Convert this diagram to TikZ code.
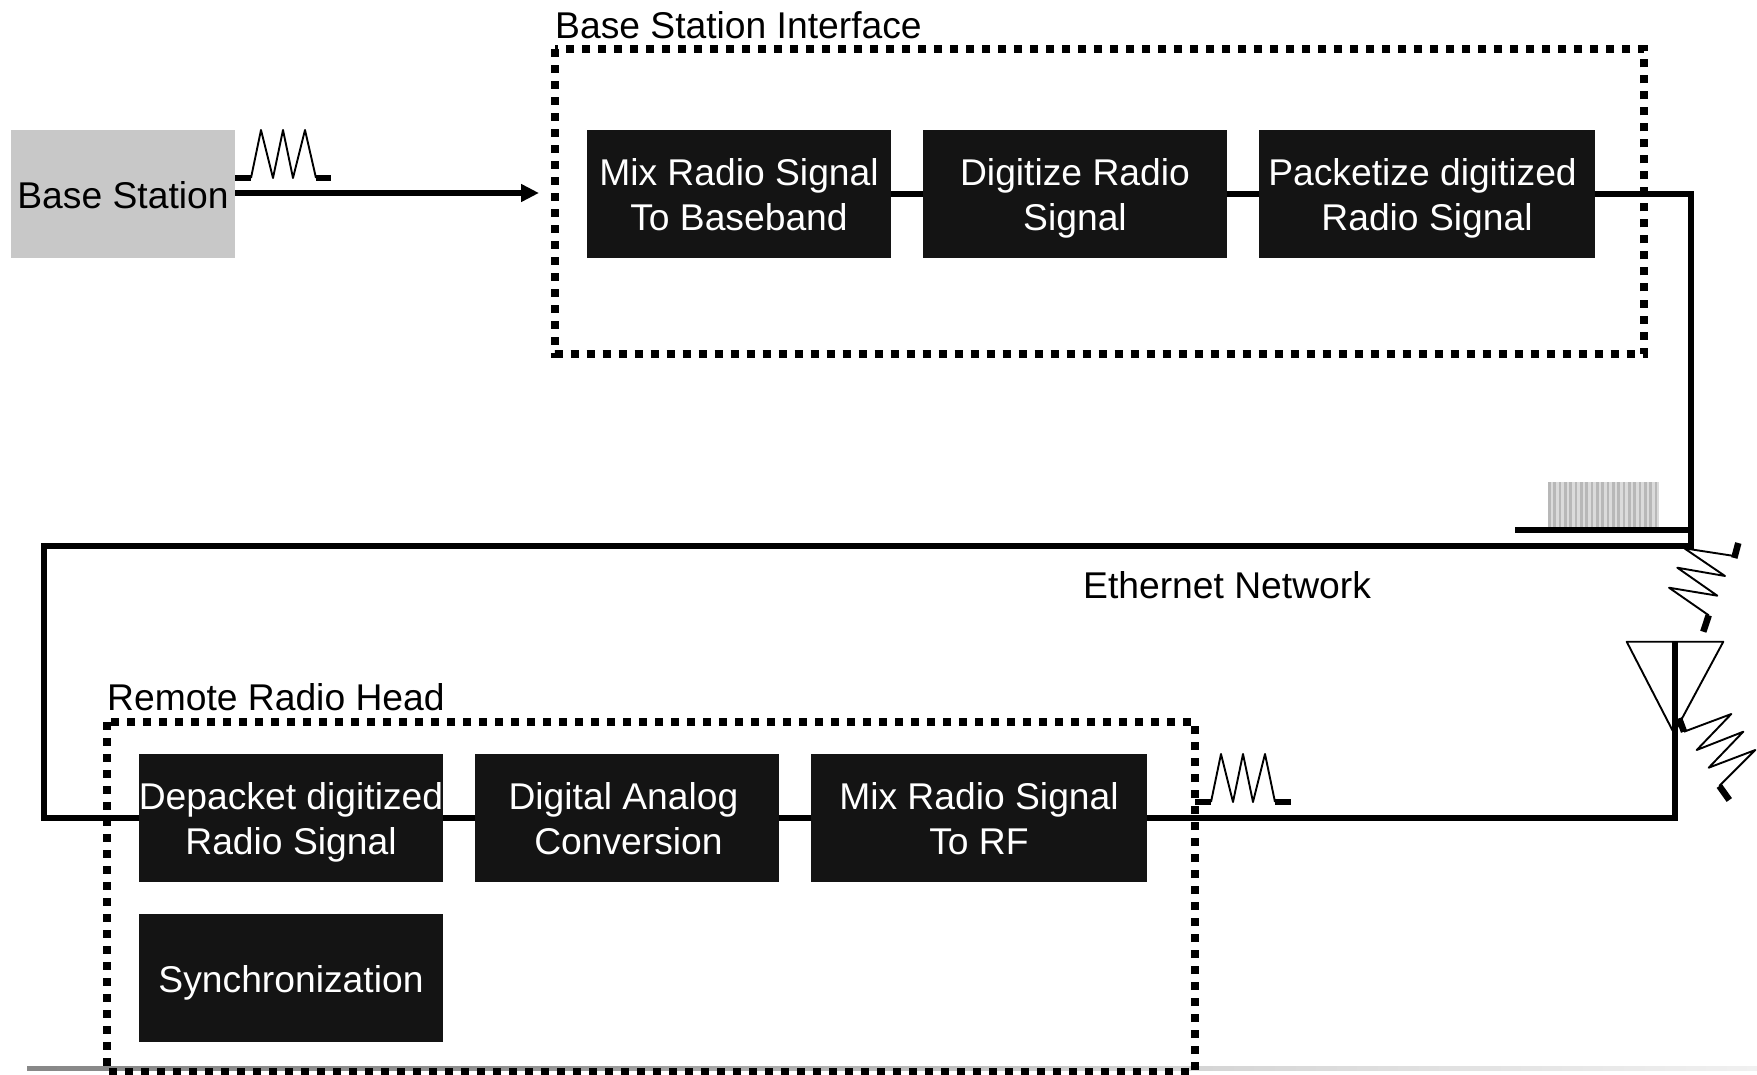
\documentclass[tikz,border=0pt]{standalone}
\usepackage{fontspec}
\setmainfont{Liberation Sans}
\usetikzlibrary{arrows.meta}
\newcommand{\bodyfont}{\fontsize{37.25}{44}\selectfont}
\newcommand{\tstrut}{\rule[-7.6pt]{0pt}{44pt}}
\definecolor{boxblack}{HTML}{141414}
\definecolor{bsgray}{HTML}{C8C8C8}
\definecolor{ruleA}{HTML}{888888}
\definecolor{ruleB}{HTML}{909090}
\definecolor{ruleC}{HTML}{D0D0D0}
\definecolor{ruleD}{HTML}{F0F0F0}
\tikzset{
  blk/.style={fill=boxblack,draw=none,text=white,inner sep=0pt,align=center,font=\bodyfont},
  lbl/.style={inner sep=0pt,anchor=base west,font=\bodyfont},
  wire/.style={line width=6pt,draw=black,line cap=butt,line join=miter},
  frame/.style={line width=8pt,draw=black,dash pattern=on 8pt off 8pt},
  thin zig/.style={line width=1.9pt,draw=black,line join=round},
  thick bit/.style={line width=5.5pt,draw=black},
}
\begin{document}
\begin{tikzpicture}[x=1pt,y=-1pt]
\useasboundingbox (0,0) rectangle (1757,1075);
% bottom rule
\shade[left color=ruleA,right color=ruleB] (27,1066) rectangle (500.5,1070);
\shade[left color=ruleB,right color=ruleC] (500,1066) rectangle (1100.5,1070);
\shade[left color=ruleC,right color=ruleD] (1100,1066) rectangle (1757,1070);
% frames
\draw[frame] (555,49.5) rectangle (1644,354);
\draw[frame] (107,722) rectangle (1195,1072);
% boxes
\node[fill=bsgray,inner sep=0pt,minimum width=224pt,minimum height=128pt,align=center,font=\bodyfont] (bs) at (123,194) {\tstrut Base Station};
\node[blk,minimum width=304pt,minimum height=128pt] (a1) at (739,194) {\tstrut Mix Radio Signal\\\tstrut To Baseband};
\node[blk,minimum width=304pt,minimum height=128pt] (a2) at (1075,194) {\tstrut Digitize Radio\\\tstrut Signal};
\node[blk,minimum width=336pt,minimum height=128pt] (a3) at (1427,194) {\hspace*{-9pt}\tstrut Packetize digitized\\\tstrut Radio Signal};
\node[blk,minimum width=304pt,minimum height=128pt] (b1) at (291,818) {\tstrut Depacket digitized\\\tstrut Radio Signal};
\node[blk,minimum width=304pt,minimum height=128pt] (b2) at (627,818) {\hspace*{-7pt}\tstrut Digital Analog\\\hspace*{3pt}\tstrut Conversion};
\node[blk,minimum width=336pt,minimum height=128pt] (b3) at (979,818) {\tstrut Mix Radio Signal\\\tstrut To RF};
\node[blk,minimum width=304pt,minimum height=128pt] (sync) at (291,978) {\tstrut Synchronization};
% labels
\node[lbl] (t1) at (555,39) {Base Station Interface};
\node[lbl] (t2) at (107,710) {Remote Radio Head};
\node[lbl] (t3) at (1083,598) {Ethernet Network};
% wires
\coordinate (arrowend) at (539,193);
\coordinate (c1) at (1691,546);
\coordinate (c2) at (44,546);
\coordinate (c3) at (1675,818);
\coordinate (c4) at (1675,642);
\draw[wire,-{Triangle[length=18pt,width=17pt]}] (bs.east |- arrowend) -- (arrowend);
\draw[wire] (a1.east) -- (a2.west);
\draw[wire] (a2.east) -- (a3.west);
\draw[wire] (a3.east) -- (c1 |- a3.east) -- (c1) -- (c2) -- (c2 |- b1.west) -- (b1.west);
\draw[wire] (b1.east) -- (b2.west);
\draw[wire] (b2.east) -- (b3.west);
\draw[wire] (b3.east) -- (c3) -- (c4);
% pulse at base station
\draw[thick bit] (235,178) -- (251,178);
\draw[thin zig] (251,178) -- (261,130) -- (273,178) -- (283,130) -- (293,178) -- (305,130) -- (316,178);
\draw[thick bit] (316,178) -- (331,178);
% pulse at remote head
\draw[thick bit] (1195,802) -- (1211,802);
\draw[thin zig] (1211,802) -- (1221,754) -- (1233,802) -- (1243,754) -- (1253,802) -- (1265,754) -- (1275,802);
\draw[thick bit] (1275,802) -- (1291,802);
% packet burst
\fill[black!14] (1548,482) rectangle (1659,528);
\foreach \i in {0,...,20} \fill[black!28] ({1548+\i*5.33},482) rectangle ({1548+\i*5.33+2.6},528);
\draw[thick bit] (1515,530) -- (1691,530);
% upper zigzag
\draw[thin zig] (1734.3,556) -- (1684.3,548.3) -- (1725,576) -- (1677.3,567.7) -- (1717.3,595.7) -- (1669,587.7) -- (1708.7,615.3);
\draw[line width=6.5pt] (1738.3,543) -- (1734.3,558);
\draw[line width=6.5pt] (1708.7,615.3) -- (1703.3,631.7);
% antenna
\draw[line width=1.9pt,line join=round] (1626.7,641.7) -- (1723.3,641.7) -- (1674,733.3) -- cycle;
\draw[wire] (1675,730) -- (1675,642);
% lower zigzag
\draw[thin zig] (1684,731.7) -- (1731.3,714) -- (1696.7,750) -- (1743.3,731.7) -- (1708.7,767.7) -- (1755.3,750) -- (1719.3,786);
\draw[line width=6.5pt] (1679,718.3) -- (1684,731.7);
\draw[line width=6.5pt] (1719.3,786) -- (1729.3,800);
\end{tikzpicture}
\end{document}
